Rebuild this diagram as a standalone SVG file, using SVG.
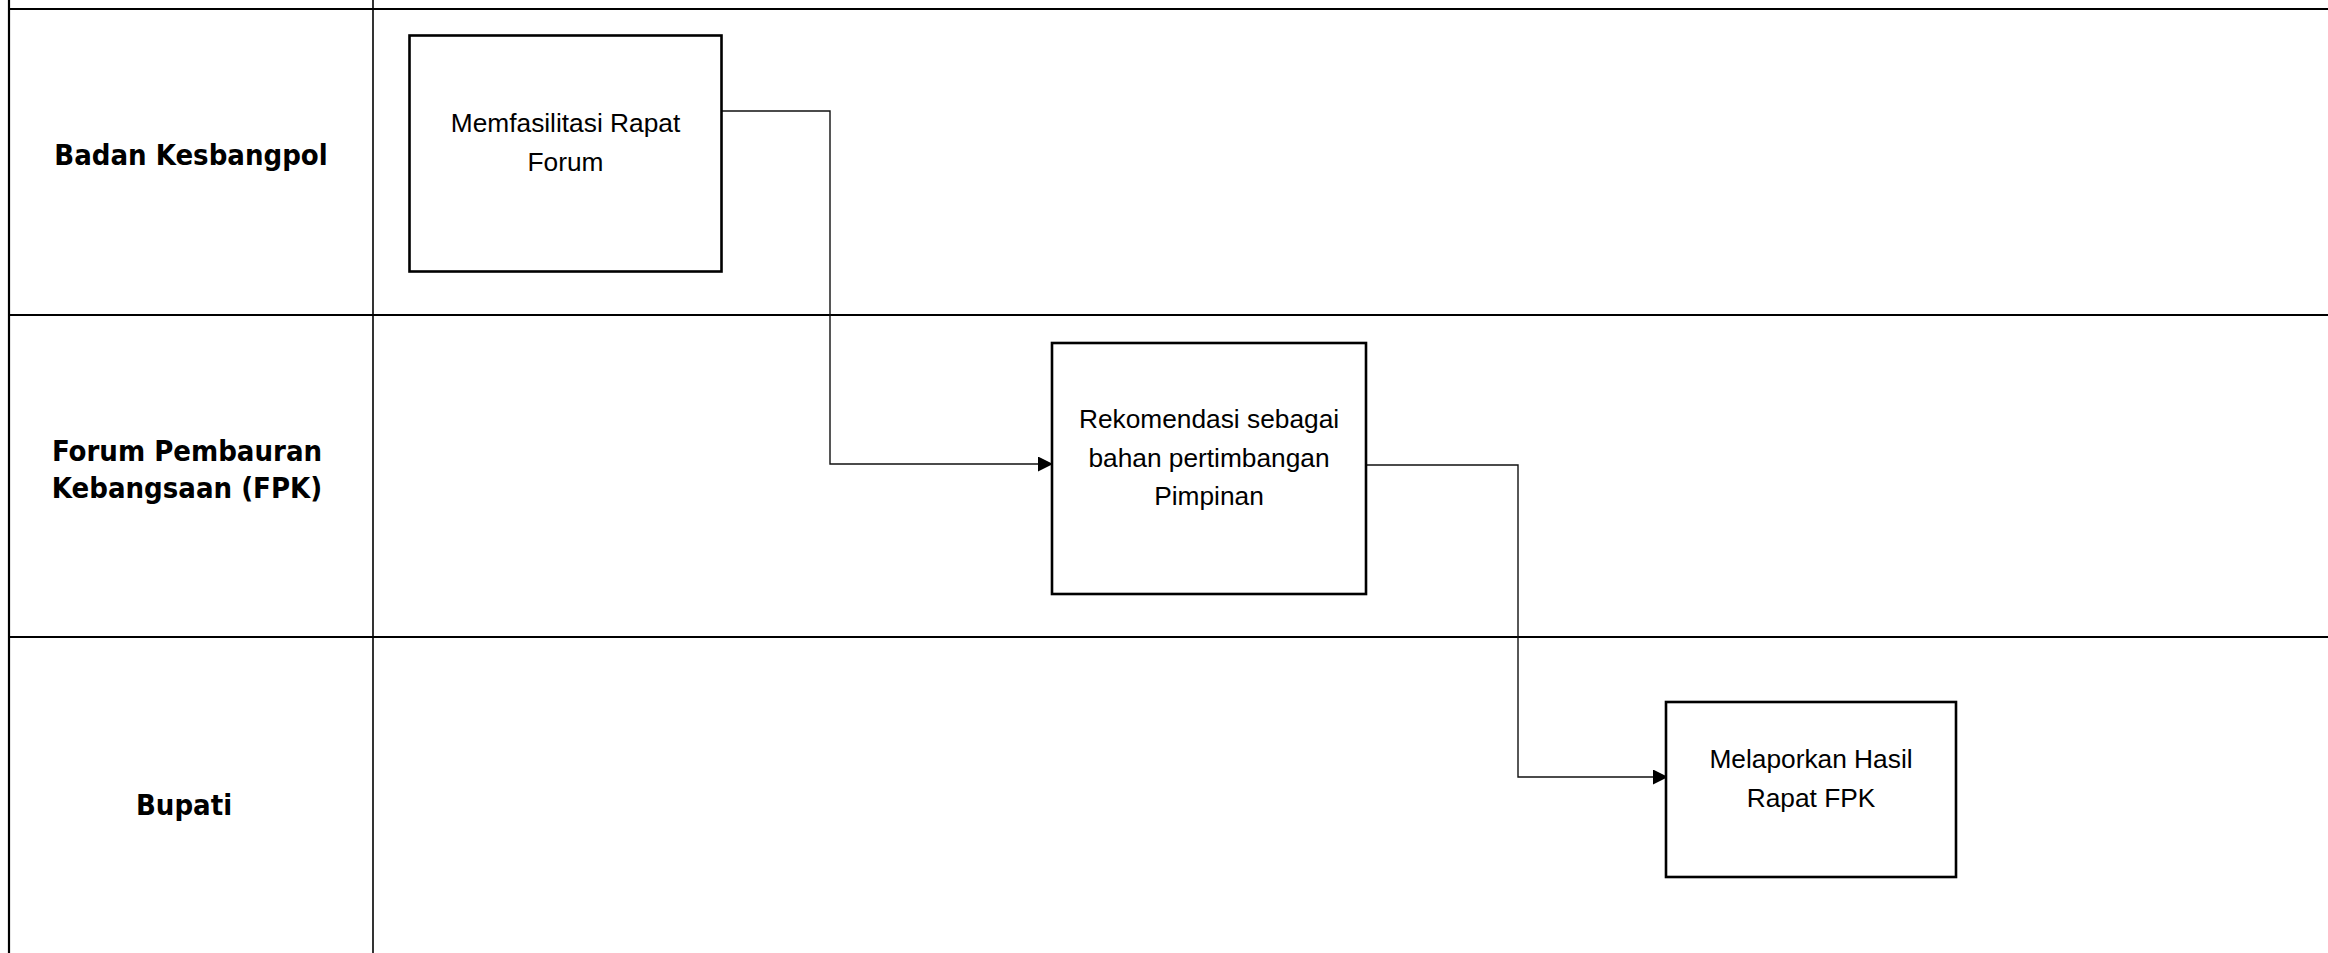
<svg xmlns="http://www.w3.org/2000/svg" width="2328" height="953" viewBox="0 0 2328 953">
<style>
.lane{stroke:#000;stroke-width:2.2;fill:none}
.div{stroke:#000;stroke-width:1.6;fill:none}
.box{fill:#fff;stroke:#000;stroke-width:2.6}
.conn{fill:none;stroke:#111;stroke-width:1.4}
.lbl{font-family:"DejaVu Sans Condensed","DejaVu Sans",sans-serif;font-weight:bold;font-size:29px;fill:#000;text-anchor:middle}
.txt{font-family:"Liberation Sans",Arial,sans-serif;font-size:26.3px;fill:#000;text-anchor:middle}
</style>
<defs>
<marker id="arr" markerWidth="15" markerHeight="15" refX="15" refY="7.5" orient="auto" markerUnits="userSpaceOnUse">
<path d="M0,0 L15,7.5 L0,15 Z" fill="#000"/>
</marker>
</defs>
<rect width="2328" height="953" fill="#fff"/>
<g id="lanes">
<line class="lane" x1="9" y1="0" x2="9" y2="953"/>
<line class="div" x1="373" y1="0" x2="373" y2="953"/>
<line class="lane" x1="9" y1="9" x2="2328" y2="9"/>
<line class="lane" x1="9" y1="315" x2="2328" y2="315"/>
<line class="lane" x1="9" y1="637" x2="2328" y2="637"/>
</g>
<g id="lane-labels">
<text class="lbl" x="191" y="165">Badan Kesbangpol</text>
<text class="lbl" x="187" y="461">Forum Pembauran</text>
<text class="lbl" x="187" y="498">Kebangsaan (FPK)</text>
<text class="lbl" x="184" y="815">Bupati</text>
</g>
<g id="connectors">
<path class="conn" d="M722,111 H830 V464 H1053" marker-end="url(#arr)"/>
<path class="conn" d="M1366,465 H1518 V777 H1668" marker-end="url(#arr)"/>
</g>
<g id="node-memfasilitasi">
<rect class="box" x="409.5" y="35.5" width="312" height="236"/>
<text class="txt" x="565.5" y="131.5">Memfasilitasi Rapat</text>
<text class="txt" x="565.5" y="170.5">Forum</text>
</g>
<g id="node-rekomendasi">
<rect class="box" x="1052" y="343" width="314" height="251"/>
<text class="txt" x="1209" y="428">Rekomendasi sebagai</text>
<text class="txt" x="1209" y="466.5">bahan pertimbangan</text>
<text class="txt" x="1209" y="505">Pimpinan</text>
</g>
<g id="node-melaporkan">
<rect class="box" x="1666" y="702" width="290" height="175"/>
<text class="txt" x="1811" y="768">Melaporkan Hasil</text>
<text class="txt" x="1811" y="806.5">Rapat FPK</text>
</g>
</svg>
